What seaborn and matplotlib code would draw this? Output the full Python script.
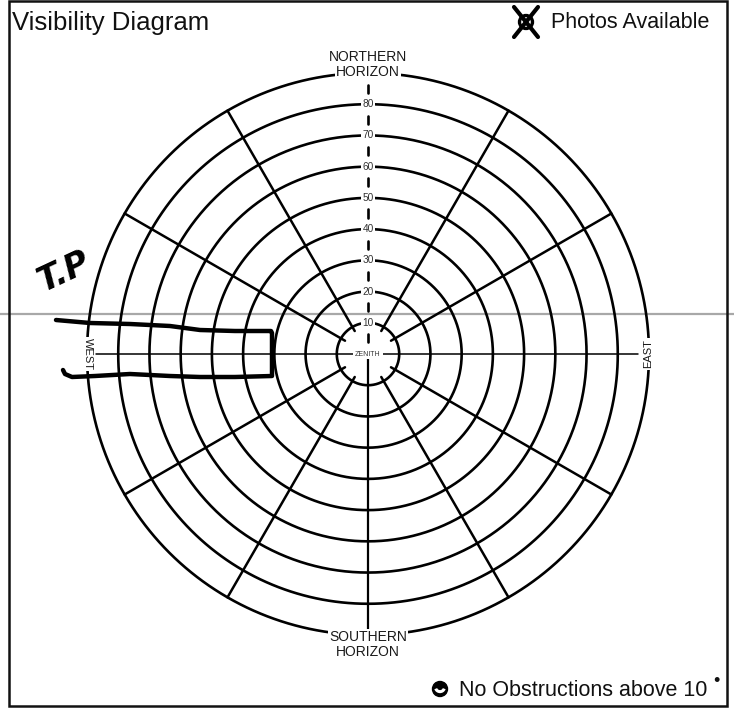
import numpy as np
import pandas as pd
import matplotlib
matplotlib.use("Agg")
import matplotlib.pyplot as plt
import seaborn as sns
from matplotlib.patches import Rectangle, Circle, Arc

# Rings are in degrees from the zenith, spokes are azimuths clockwise from north
ring_degs = [10, 20, 30, 40, 50, 60, 70, 80, 90]
ring_labels = ["10", "20", "30", "40", "50", "60", "70", "80"]
spoke_azimuths = [30, 60, 120, 150, 210, 240, 300, 330]
north_dash_mids = [5, 15, 25, 35, 45, 55, 65, 75, 85]

title_text = "Visibility Diagram"
photos_text = "Photos Available"
obstr_text = "No Obstructions above 10"

# hand-drawn marks on the scan (pixel positions)
bracket_px_x = [56, 90, 130, 170, 200, 235, 271, 272, 272, 235, 200, 170, 130, 95, 72, 65, 63]
bracket_px_y = [320, 323, 324, 326, 330, 331, 331, 333, 376, 377, 377, 376, 374, 376, 377, 374, 370]
hand_note = "T.P"

# layout: centre of the diagram and pixels per degree
W, H = 734, 709
CX, CY = 368, 354
S = 281 / 90


def px(x, y):
    return (np.asarray(x) - CX) / S, (CY - np.asarray(y)) / S


sns.set_style("white")
plt.rcParams["font.family"] = ["Liberation Sans", "DejaVu Sans"]

fig = plt.figure(figsize=(W / 100, H / 100), dpi=100)
ax = fig.add_axes([0, 0, 1, 1])

# rings
theta = np.linspace(0, 2 * np.pi, 721)
rings = pd.DataFrame({
    "ring": np.repeat(ring_degs, len(theta)),
    "x": np.concatenate([r * np.sin(theta) for r in ring_degs]),
    "y": np.concatenate([r * np.cos(theta) for r in ring_degs]),
})
sns.lineplot(data=rings, x="x", y="y", units="ring", estimator=None, sort=False,
             color="black", lw=1.9, legend=False, ax=ax, zorder=2)

# diagonal spokes
r0, r1 = 8.5, 90
spokes = pd.DataFrame({
    "spoke": np.repeat(spoke_azimuths, 2),
    "x": [r * np.sin(np.radians(a)) for a in spoke_azimuths for r in (r0, r1)],
    "y": [r * np.cos(np.radians(a)) for a in spoke_azimuths for r in (r0, r1)],
})
sns.lineplot(data=spokes, x="x", y="y", units="spoke", estimator=None, sort=False,
             color="black", lw=1.8, legend=False, ax=ax, zorder=2)

# west-east axis (thin) and south axis
ax.plot([-87, 86.5], [0, 0], color="black", lw=1.1, zorder=2)
ax.plot([0, 0], [0, -90], color="black", lw=1.6, zorder=2)
# north axis, one dash between each pair of labels
for m in north_dash_mids:
    ax.plot([0, 0], [m - 1.3, m + 1.3], color="black", lw=1.9, zorder=2)

# ring labels
box = dict(facecolor="white", edgecolor="none", pad=1.2)
for r, lab in zip(ring_degs[:-1], ring_labels):
    ax.text(0, r, lab, ha="center", va="center", fontsize=7.3, color="#333333",
            bbox=box, zorder=4)

ax.text(0, 0, "ZENITH", ha="center", va="center", fontsize=5, color="#333333",
        bbox=dict(facecolor="white", edgecolor="none", pad=1.3), zorder=4)

lab_box = dict(facecolor="white", edgecolor="none", pad=0.8)
ax.text(0, 90.3, "HORIZON", ha="center", va="center", fontsize=10,
        color="#1a1a1a", bbox=lab_box, zorder=4)
ax.text(0, 95.0, "NORTHERN", ha="center", va="center", fontsize=10,
        color="#1a1a1a", bbox=lab_box, zorder=4)
ax.text(0, -90.8, "SOUTHERN", ha="center", va="center", fontsize=10,
        color="#1a1a1a", bbox=lab_box, zorder=4)
ax.text(0, -95.6, "HORIZON", ha="center", va="center", fontsize=10,
        color="#1a1a1a", bbox=lab_box, zorder=4)
ax.text(-89.8, 0, "WEST", ha="center", va="center", rotation=270, fontsize=8,
        color="#1a1a1a", bbox=dict(facecolor="white", edgecolor="none", pad=1.0), zorder=4)
ax.text(89.8, 0, "EAST", ha="center", va="center", rotation=90, fontsize=8,
        color="#1a1a1a", bbox=dict(facecolor="white", edgecolor="none", pad=1.0), zorder=4)

# header and footer
tx, ty = px(12, 23)
ax.text(tx, ty, title_text, ha="left", va="center", fontsize=18.5, color="#111111")
tx, ty = px(551, 23)
ax.text(tx, ty, photos_text, ha="left", va="center", fontsize=15.5, color="#111111")
tx, ty = px(459, 690)
ax.text(tx, ty, obstr_text, ha="left", va="center", fontsize=15.5, color="#111111")
tx, ty = px(716, 681)
ax.text(tx, ty, "•", ha="center", va="center", fontsize=13, color="#111111")

# photos icon: circle crossed out
ix, iy = px(526, 22)
ax.add_patch(Circle((ix, iy), 6.5 / S, facecolor="white", edgecolor="black", lw=2.4, zorder=5))
d = 12 / S
ax.plot([ix - d, ix + d], [iy + 1.25 * d, iy - 1.25 * d], color="black", lw=3, zorder=6)
ax.plot([ix - d, ix + d], [iy - 1.25 * d, iy + 1.25 * d], color="black", lw=3, zorder=6)

# no-obstruction icon
ox, oy = px(440, 689)
ax.add_patch(Circle((ox, oy), 7.5 / S, facecolor="black", edgecolor="black", zorder=5))
ax.add_patch(Arc((ox, oy + 0.6), 9 / S, 9 / S, theta1=200, theta2=340,
                 color="white", lw=2.2, zorder=6))

# frame and scan line
fx0, fy0 = px(9, 706)
fx1, fy1 = px(727, 1)
ax.add_patch(Rectangle((fx0, fy0), fx1 - fx0, fy1 - fy0, fill=False,
                       edgecolor="#111111", lw=1.8, zorder=7))
gx0, gy = px(0, 314)
gx1, _ = px(W, 314)
ax.plot([gx0, gx1], [gy, gy], color="#a8a8a8", lw=1.6, zorder=1.5)

# handwritten bracket and note
bx, by = px(bracket_px_x, bracket_px_y)
hand = pd.DataFrame({"x": bx, "y": by})
sns.lineplot(data=hand, x="x", y="y", estimator=None, sort=False, color="black",
             lw=3.2, legend=False, ax=ax, zorder=8)
nx, ny = px(64, 272)
ax.text(nx, ny, hand_note, ha="center", va="center", rotation=25, fontsize=24,
        fontweight="bold", fontstyle="italic", family=["DejaVu Sans"], color="black")

ax.set_xlim(-CX / S, (W - CX) / S)
ax.set_ylim(-(H - CY) / S, CY / S)
ax.set_axis_off()

fig.savefig("out.png", dpi=100, facecolor="white")
